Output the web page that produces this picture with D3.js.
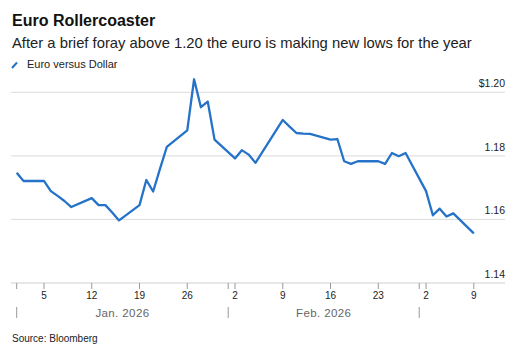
<!DOCTYPE html>
<html>
<head>
<meta charset="utf-8">
<script src="https://cdn.jsdelivr.net/npm/d3@7"></script>
<style>
  body { margin: 0; background: #fff; }
  svg { font-family: "Liberation Sans", Arial, sans-serif; }
</style>
</head>
<body>
<div id="chart"></div>
<script>
const W = 528, H = 353;

// EUR/USD daily closes
const dates = [
  "2026-01-01","2026-01-02","2026-01-05","2026-01-06","2026-01-07","2026-01-08","2026-01-09",
  "2026-01-12","2026-01-13","2026-01-14","2026-01-15","2026-01-16",
  "2026-01-19","2026-01-20","2026-01-21","2026-01-22","2026-01-23",
  "2026-01-26","2026-01-27","2026-01-28","2026-01-29","2026-01-30",
  "2026-02-02","2026-02-03","2026-02-04","2026-02-05","2026-02-06",
  "2026-02-09","2026-02-10","2026-02-11","2026-02-12","2026-02-13",
  "2026-02-16","2026-02-17","2026-02-18","2026-02-19","2026-02-20",
  "2026-02-23","2026-02-24","2026-02-25","2026-02-26","2026-02-27",
  "2026-03-02","2026-03-03","2026-03-04","2026-03-05","2026-03-06","2026-03-09"
];
const eurusd = [
  1.1747, 1.1721, 1.1721, 1.1689, 1.1674, 1.1658, 1.1639,
  1.1667, 1.1645, 1.1645, 1.1622, 1.1597,
  1.1645, 1.1724, 1.1688, 1.1759, 1.1828,
  1.1880, 1.2041, 1.1953, 1.1971, 1.1851,
  1.1792, 1.1818, 1.1804, 1.1778, 1.1812,
  1.1913, 1.1892, 1.1872, 1.1870, 1.1869,
  1.1851, 1.1853, 1.1783, 1.1775, 1.1783,
  1.1783, 1.1775, 1.1809, 1.1799, 1.1809,
  1.1689, 1.1613, 1.1634, 1.1609, 1.1619, 1.1556
];
const yTicks = [1.14, 1.16, 1.18, 1.20];
const dayTicks = ["2026-01-05","2026-01-12","2026-01-19","2026-01-26","2026-02-02","2026-02-09","2026-02-16","2026-02-23","2026-03-02","2026-03-09"];
const monthStarts = ["2026-01-01","2026-02-01","2026-03-01"];
const monthLabels = ["Jan. 2026", "Feb. 2026"];

const data = dates.map((d, i) => ({ date: new Date(d), value: eurusd[i] }));

const svg = d3.select("#chart").append("svg")
  .attr("width", W).attr("height", H).attr("viewBox", `0 0 ${W} ${H}`);

const plot = { l: 11, r: 505, t: 92.3, b: 283 };

const x = d3.scaleUtc()
  .domain([new Date("2026-01-01"), new Date("2026-03-09")])
  .range([16.7, 473.8]);
const y = d3.scaleLinear()
  .domain([1.14, 1.20])
  .range([plot.b, plot.t]);

// titles
svg.append("text").attr("x", 12).attr("y", 26)
  .attr("font-size", 16).attr("font-weight", "bold").attr("fill", "#111")
  .text("Euro Rollercoaster");
svg.append("text").attr("x", 12).attr("y", 47.5)
  .attr("font-size", 14.8).attr("fill", "#222")
  .text("After a brief foray above 1.20 the euro is making new lows for the year");

// legend
svg.append("line").attr("x1", 12).attr("y1", 68).attr("x2", 17).attr("y2", 62.5)
  .attr("stroke", "#2473c8").attr("stroke-width", 2);
svg.append("text").attr("x", 27).attr("y", 67.5)
  .attr("font-size", 11).attr("fill", "#222")
  .text("Euro versus Dollar");

// gridlines + y labels
const yg = svg.append("g");
yg.selectAll("line").data(yTicks.filter(d => d !== 1.14)).join("line")
  .attr("x1", plot.l).attr("x2", plot.r)
  .attr("y1", d => y(d)).attr("y2", d => y(d))
  .attr("stroke", "#dcdcdc").attr("stroke-width", 1);
yg.selectAll("text").data(yTicks).join("text")
  .attr("x", plot.r).attr("y", d => y(d) - 5)
  .attr("text-anchor", "end")
  .attr("font-size", 10.5).attr("fill", "#222")
  .text(d => d === 1.20 ? "$1.20" : d3.format(".2f")(d));

// x axis
const xg = svg.append("g").attr("transform", `translate(0,${plot.b})`);
xg.append("line").attr("x1", plot.l).attr("x2", plot.r)
  .attr("stroke", "#cfcfcf");
xg.selectAll(".tk").data(dayTicks.map(d => new Date(d))).join("line")
  .attr("class", "tk")
  .attr("x1", d => x(d)).attr("x2", d => x(d))
  .attr("y1", 0).attr("y2", 6)
  .attr("stroke", "#999");
xg.selectAll(".tl").data(dayTicks.map(d => new Date(d))).join("text")
  .attr("class", "tl")
  .attr("x", d => x(d)).attr("y", 16)
  .attr("text-anchor", "middle")
  .attr("font-size", 10).attr("fill", "#222")
  .text(d => d.getUTCDate());
const ms = monthStarts.map(d => new Date(d));
xg.selectAll(".mt").data(ms).join("line")
  .attr("class", "mt")
  .attr("x1", d => x(d)).attr("x2", d => x(d))
  .attr("y1", 0).attr("y2", 6)
  .attr("stroke", "#999");
xg.selectAll(".ms").data(ms).join("line")
  .attr("class", "ms")
  .attr("x1", d => x(d)).attr("x2", d => x(d))
  .attr("y1", 24).attr("y2", 35)
  .attr("stroke", "#999");
xg.selectAll(".ml").data(monthLabels).join("text")
  .attr("class", "ml")
  .attr("x", (d, i) => (x(ms[i]) + x(ms[i + 1])) / 2)
  .attr("y", 33.5)
  .attr("text-anchor", "middle")
  .attr("font-size", 11.5).attr("fill", "#666")
  .attr("letter-spacing", 0.4)
  .text(d => d);

// line
svg.append("path").datum(data)
  .attr("fill", "none")
  .attr("stroke", "#2473c8")
  .attr("stroke-width", 2.3)
  .attr("stroke-linejoin", "round")
  .attr("d", d3.line().x(d => x(d.date)).y(d => y(d.value)));

// source
svg.append("text").attr("x", 12).attr("y", 342)
  .attr("font-size", 10).attr("fill", "#222")
  .text("Source: Bloomberg");
</script>
</body>
</html>
